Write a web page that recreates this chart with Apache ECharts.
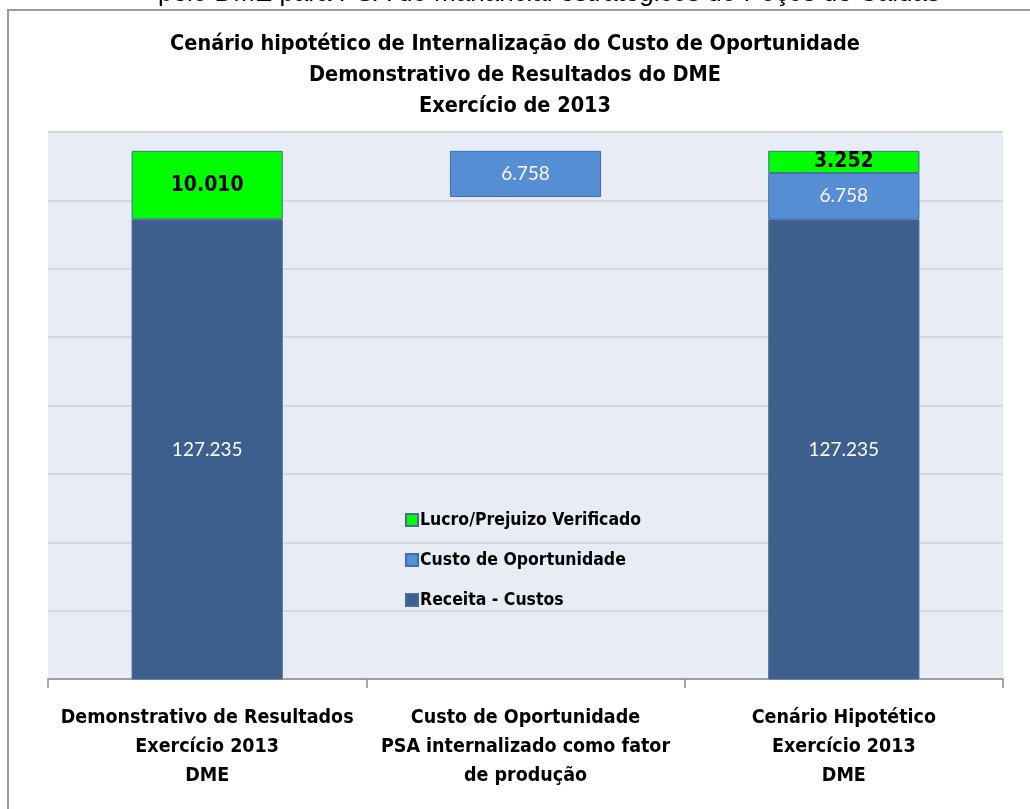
<!DOCTYPE html>
<html>
<head>
<meta charset="utf-8">
<script src="https://cdn.jsdelivr.net/npm/echarts@6/dist/echarts.min.js"></script>
<style>
  html, body { margin: 0; padding: 0; background: #fff; }
  #main { width: 1030px; height: 809px; }
</style>
</head>
<body>
<div id="main"></div>
<script>
// categorias do eixo x
const categories = [
  'Demonstrativo de Resultados\nExercício 2013\nDME',
  'Custo de Oportunidade\nPSA internalizado como fator\nde produção',
  'Cenário Hipotético\nExercício 2013\nDME'
];
// base invisível (barra flutuante do meio)
const baseValues = ['-', 130.487, '-'];
const receitaCustos = [127.235, '-', 127.235];
const custoOportunidade = ['-', 6.758, 6.758];
const lucroPrejuizo = [10.010, '-', 3.252];

const narrow = '"Liberation Sans Narrow", "DejaVu Sans Condensed", sans-serif';

const myChart = echarts.init(document.getElementById('main'));

const option = {
  backgroundColor: '#fff',
  animation: false,
  title: {
    text: 'Cenário hipotético de Internalização do Custo de Oportunidade\nDemonstrativo de Resultados do DME\nExercício de 2013',
    left: 'center',
    top: 24,
    textStyle: {
      fontFamily: narrow,
      fontWeight: 'bold',
      fontSize: 21.5,
      lineHeight: 31,
      color: '#000'
    }
  },
  graphic: [
    // moldura externa
    {
      type: 'rect',
      shape: { x: 8, y: 10, width: 1040, height: 830 },
      style: { fill: 'none', stroke: '#9a9a9a', lineWidth: 2 },
      silent: true
    },
    // texto cortado no topo
    {
      type: 'text',
      x: 549,
      y: 7,
      style: {
        text: 'pelo DME para PSA do manancial estratégicos do Poços de Caldas',
        font: '26px "Liberation Sans", Arial, sans-serif',
        fill: '#000',
        align: 'center',
        verticalAlign: 'bottom'
      },
      silent: true
    }
  ],
  legend: {
    orient: 'vertical',
    left: 400,
    top: 506,
    itemGap: 22,
    itemWidth: 12,
    itemHeight: 12,
    icon: 'rect',
    data: ['Lucro/Prejuizo Verificado', 'Custo de Oportunidade', 'Receita - Custos'],
    textStyle: {
      fontFamily: narrow,
      fontWeight: 'bold',
      fontSize: 17.5,
      color: '#000',
      padding: [0, 0, 0, -3]
    }
  },
  grid: {
    left: 48,
    right: 27,
    top: 132,
    bottom: 130,
    show: true,
    backgroundColor: '#e8ecf4',
    borderWidth: 0
  },
  xAxis: {
    type: 'category',
    data: categories,
    axisLine: { lineStyle: { color: '#8c8c8c', width: 1.5 } },
    axisTick: { show: true, length: 9, lineStyle: { color: '#8c8c8c', width: 1.5 } },
    axisLabel: {
      margin: 24,
      fontFamily: narrow,
      fontWeight: 'bold',
      fontSize: 19.5,
      lineHeight: 29,
      color: '#000',
      interval: 0
    }
  },
  yAxis: {
    type: 'value',
    min: 60,
    max: 140,
    interval: 10,
    axisLabel: { show: false },
    axisLine: { show: false },
    axisTick: { show: false },
    splitLine: { lineStyle: { color: '#d6d8dc', width: 2 } }
  },
  series: [
    {
      name: 'base',
      type: 'bar',
      stack: 'total',
      barWidth: '47.5%',
      data: baseValues,
      itemStyle: { color: 'transparent' },
      silent: true
    },
    {
      name: 'Receita - Custos',
      type: 'bar',
      stack: 'total',
      data: receitaCustos,
      itemStyle: { color: '#3c5f8e', borderColor: '#4a6b98', borderWidth: 1 },
      label: {
        show: true,
        position: 'inside',
        color: '#fff',
        fontFamily: 'Lato, "Open Sans", sans-serif',
        fontSize: 19,
        formatter: p => p.value.toFixed(3)
      }
    },
    {
      name: 'Custo de Oportunidade',
      type: 'bar',
      stack: 'total',
      data: custoOportunidade,
      itemStyle: { color: '#558ed5', borderColor: '#3f6ea8', borderWidth: 1 },
      label: {
        show: true,
        position: 'inside',
        color: '#fff',
        fontFamily: 'Lato, "Open Sans", sans-serif',
        fontSize: 19,
        formatter: p => p.value.toFixed(3)
      }
    },
    {
      name: 'Lucro/Prejuizo Verificado',
      type: 'bar',
      stack: 'total',
      data: lucroPrejuizo,
      itemStyle: { color: '#00ff00', borderColor: '#4a6b98', borderWidth: 1 },
      label: {
        show: true,
        position: 'inside',
        color: '#000',
        fontFamily: narrow,
        fontWeight: 'bold',
        fontSize: 21,
        formatter: p => p.value.toFixed(3)
      }
    }
  ]
};

myChart.setOption(option);
</script>
</body>
</html>
